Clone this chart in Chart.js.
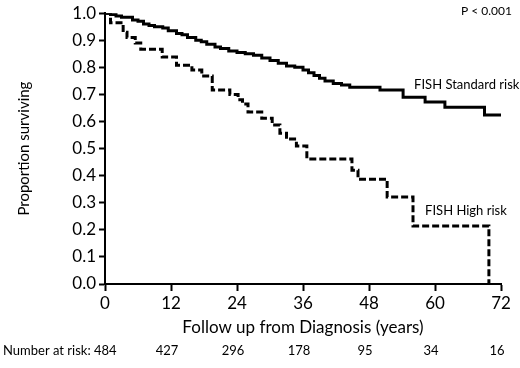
<!DOCTYPE html>
<html>
<head>
<meta charset="utf-8">
<script src="https://cdn.jsdelivr.net/npm/chart.js@4/dist/chart.umd.min.js"></script>
<style>
  body { margin: 0; background: #fff; }
</style>
</head>
<body>
<canvas id="kmChart" width="520" height="368"></canvas>
<script>
// survival estimates (months, proportion)
const stdTimes = [0, 1, 2, 3, 5, 6, 7, 8, 9, 10.5, 11.5, 13, 14, 15, 16.5, 17.5, 18.5, 20, 21, 22.5, 24, 25.5, 27, 28.5, 30, 31.5, 33, 34.5, 36, 37, 38, 39, 40, 41.5, 43, 44.5, 50, 54.2, 58.2, 61.8, 69, 72];
const stdSurv = [1.0, 0.995, 0.99, 0.985, 0.975, 0.97, 0.96, 0.955, 0.95, 0.945, 0.935, 0.925, 0.92, 0.91, 0.9, 0.895, 0.885, 0.875, 0.87, 0.86, 0.855, 0.85, 0.845, 0.835, 0.825, 0.815, 0.805, 0.8, 0.79, 0.78, 0.77, 0.76, 0.75, 0.74, 0.735, 0.727, 0.716, 0.69, 0.672, 0.653, 0.624, 0.624];

const highTimes = [0, 1, 3.3, 4, 5.5, 6.5, 10.4, 13, 15.8, 17.6, 19.5, 22.7, 24.2, 25, 26, 28.5, 30.4, 31.8, 33, 34.8, 36.7, 44.9, 46, 51.3, 56, 69.8];
const highSurv = [1.0, 0.965, 0.93, 0.91, 0.89, 0.867, 0.838, 0.808, 0.79, 0.768, 0.716, 0.7, 0.68, 0.665, 0.635, 0.612, 0.587, 0.557, 0.535, 0.51, 0.462, 0.42, 0.387, 0.321, 0.214, 0.0];

const riskTimes = [0, 12, 24, 36, 48, 60, 72];
const riskCounts = [484, 427, 296, 178, 95, 34, 16];

const seriesLabels = ['FISH Standard risk', 'FISH High risk'];
const pValueText = 'P < 0.001';

const FONT = 'Lato, "Open Sans", sans-serif';

const toPoints = (xs, ys) => xs.map((x, i) => ({ x: x, y: ys[i] }));

const extrasPlugin = {
    id: 'extras',
    afterDraw(chart) {
        const c = chart.ctx;
        const xs = chart.scales.x;
        const ys = chart.scales.y;
        c.save();
        c.fillStyle = '#000';

        // curve labels
        c.font = '13px ' + FONT;
        c.textAlign = 'left';
        c.textBaseline = 'middle';
        c.fillText(seriesLabels[0], xs.getPixelForValue(56.2), ys.getPixelForValue(0.735));
        c.fillText(seriesLabels[1], xs.getPixelForValue(58.2), ys.getPixelForValue(0.27));

        // p value
        c.font = '12px ' + FONT;
        c.textAlign = 'right';
        c.fillText(pValueText, 512, 11);

        // number at risk row
        c.font = '13px ' + FONT;
        c.textBaseline = 'middle';
        c.textAlign = 'left';
        c.fillText('Number at risk: ' + riskCounts[0], 3, 351);
        c.textAlign = 'center';
        for (let i = 1; i < riskTimes.length; i++) {
            c.fillText(String(riskCounts[i]), xs.getPixelForValue(riskTimes[i]) - 4, 351);
        }
        c.restore();
    }
};

const ctx = document.getElementById('kmChart').getContext('2d');

new Chart(ctx, {
    type: 'line',
    data: {
        datasets: [{
            label: seriesLabels[0],
            data: toPoints(stdTimes, stdSurv),
            stepped: 'before',
            borderColor: '#000',
            borderWidth: 3,
            pointRadius: 0,
            fill: false,
        }, {
            label: seriesLabels[1],
            data: toPoints(highTimes, highSurv),
            stepped: 'before',
            borderColor: '#000',
            borderWidth: 3,
            borderDash: [7, 3],
            pointRadius: 0,
            fill: false,
        }]
    },
    options: {
        responsive: false,
        animation: false,
        layout: {
            padding: { left: 0, right: 19, top: 13, bottom: 30 }
        },
        plugins: {
            legend: { display: false },
            tooltip: { enabled: false },
        },
        scales: {
            x: {
                type: 'linear',
                min: 0,
                max: 72,
                afterFit: (scale) => { scale.height = 54; },
                ticks: {
                    stepSize: 12,
                    color: '#000',
                    font: { family: FONT, size: 17 },
                    padding: 2,
                    maxRotation: 0,
                },
                grid: {
                    drawOnChartArea: false,
                    tickLength: 7,
                    tickWidth: 2,
                    color: '#000',
                },
                border: { color: '#000', width: 2 },
                title: {
                    display: true,
                    text: 'Follow up from Diagnosis (years)',
                    color: '#000',
                    font: { family: FONT, size: 17 },
                    padding: { top: 0, bottom: 0 },
                },
            },
            y: {
                min: 0,
                max: 1,
                afterFit: (scale) => { scale.width = 105; },
                ticks: {
                    stepSize: 0.1,
                    color: '#000',
                    font: { family: FONT, size: 17 },
                    padding: 3,
                    callback: (v) => v.toFixed(1),
                },
                grid: {
                    drawOnChartArea: false,
                    tickLength: 6,
                    tickWidth: 2,
                    color: '#000',
                },
                border: { color: '#000', width: 2 },
                title: {
                    display: true,
                    text: 'Proportion surviving',
                    color: '#000',
                    font: { family: FONT, size: 15 },
                    padding: { top: 15, bottom: 0 },
                },
            }
        }
    },
    plugins: [extrasPlugin]
});
</script>
</body>
</html>
